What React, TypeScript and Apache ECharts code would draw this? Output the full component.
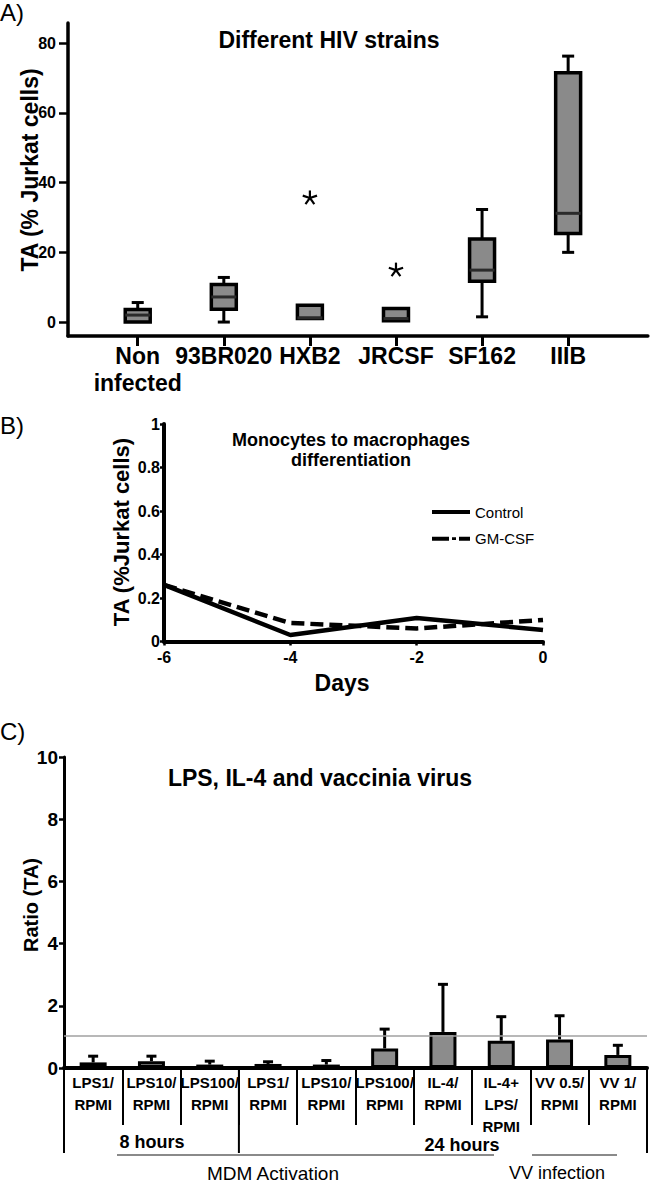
import React, { useEffect, useRef } from 'react';
import * as echarts from 'echarts';

// ---------- Panel A: boxplots ----------
const strains = ['Non\ninfected', '93BR020', 'HXB2', 'JRCSF', 'SF162', 'IIIB'];
const whiskerLow = [0, 0, 1.0, 0.4, 1.5, 20];
const quartile1 = [0, 3.7, 1.0, 0.4, 11.7, 25.4];
const medians = [2.0, 7.2, 1.2, 1.0, 14.9, 31.2];
const quartile3 = [3.6, 10.8, 4.8, 3.9, 23.8, 71.5];
const whiskerHigh = [5.6, 12.8, 4.8, 3.9, 32.3, 76.3];
const outlierStrain = [2, 3];
const outlierValue = [35.6, 14.9];
const aTicks = [0, 20, 40, 60, 80];

// ---------- Panel B: lines ----------
const days = [-6, -4, -2, 0];
const control = [0.26, 0.03, 0.108, 0.053];
const gmcsf = [0.26, 0.085, 0.06, 0.099];

// ---------- Panel C: bars ----------
const treatments = [
  'LPS1/\nRPMI', 'LPS10/\nRPMI', 'LPS100/\nRPMI', 'LPS1/\nRPMI', 'LPS10/\nRPMI',
  'LPS100/\nRPMI', 'IL-4/\nRPMI', 'IL-4+\nLPS/\nRPMI', 'VV 0.5/\nRPMI', 'VV 1/\nRPMI',
];
const ratioMean = [0.18, 0.22, 0.11, 0.13, 0.11, 0.63, 1.16, 0.88, 0.92, 0.42];
const ratioUpper = [0.38, 0.38, 0.22, 0.2, 0.24, 1.25, 2.69, 1.65, 1.68, 0.73];
const refRatio = 1.05;

const FONT = 'Liberation Sans, Arial, Helvetica, sans-serif';

// x range of panel A (in category-index units)
const A_MIN = -0.81;
const A_MAX = 5.926;

// layout constants for panel C annotations
const C_LEFT = 64;
const C_RIGHT = 3;
const C_AXIS_Y = 1068;
const C_BAND = (650 - C_LEFT - C_RIGHT) / treatments.length;

const ICON_SOLID = 'path://M0,0H38V4H0Z';
const ICON_DASHDOT = 'path://M0,0H17V4H0Z M20,0.6H24V3.4H20Z M27,0H38V4H27Z';

function buildOption() {
  const strainIdx = strains.map((_, i) => i);
  const boxData = strains.map((_, i) => [i, whiskerLow[i], quartile1[i], medians[i], quartile3[i], whiskerHigh[i]]);
  const outData = outlierStrain.map((s, i) => [s, outlierValue[i]]);
  const ctrlData = days.map((d, i) => [d, control[i]]);
  const gmData = days.map((d, i) => [d, gmcsf[i]]);
  const errData = ratioMean.map((m, i) => [i, m, ratioUpper[i]]);

  const blk = '#000';
  const lbl = (size: number, bold = true) => ({
    fontSize: size, fontWeight: bold ? 'bold' : 'normal', color: blk, fontFamily: FONT,
  });

  const longSeps = [0, 3, 10].map((b) => ({
    type: 'line',
    shape: { x1: C_LEFT + b * C_BAND, y1: C_AXIS_Y, x2: C_LEFT + b * C_BAND, y2: 1153 },
    style: { stroke: blk, lineWidth: 2 },
  }));

  const text = (t: string, x: number, y: number, size: number, bold: boolean, rot = 0, align = 'center') => ({
    type: 'text', x, y, rotation: rot,
    style: {
      text: t, fill: blk, font: `${bold ? 'bold ' : ''}${size}px ${FONT}`,
      textAlign: align, textVerticalAlign: 'middle', lineHeight: size + 2,
    },
  });

  return {
    animation: false,
    backgroundColor: '#fff',
    grid: [
      { left: 68, right: 0, top: 23, bottom: 846 },
      { left: 164, right: 107, top: 424, bottom: 540.5 },
      { left: C_LEFT, right: C_RIGHT, top: 757, bottom: 1182 - C_AXIS_Y },
    ],
    xAxis: [
      {
        gridIndex: 0, type: 'value', min: A_MIN, max: A_MAX,
        splitLine: { show: false },
        axisLine: { show: true, onZero: false, lineStyle: { color: blk, width: 3.5 } },
        axisTick: { show: true, customValues: strainIdx, length: 10, lineStyle: { color: blk, width: 3 } },
        axisLabel: {
          // empty edge labels keep the min/max overlap check away from the real labels
          customValues: [A_MIN + 0.01, ...strainIdx, A_MAX - 0.01],
          formatter: (v: number) => (Number.isInteger(v) ? strains[v] ?? '' : ''),
          ...lbl(23), lineHeight: 27, margin: 6,
        },
      },
      {
        gridIndex: 1, type: 'value', min: -6, max: 0, interval: 2,
        splitLine: { show: false },
        axisLine: { show: true, onZero: false, lineStyle: { color: blk, width: 4 } },
        axisTick: { show: true, length: 4, lineStyle: { color: blk, width: 2.5 } },
        axisLabel: { ...lbl(16), margin: 8 },
      },
      {
        gridIndex: 2, type: 'category', data: treatments,
        axisLine: { show: true, onZero: false, lineStyle: { color: blk, width: 4 } },
        axisTick: { show: true, interval: 0, alignWithLabel: false, length: 57, lineStyle: { color: blk, width: 2 } },
        axisLabel: { interval: 0, ...lbl(15), lineHeight: 22, margin: 3 },
      },
    ],
    yAxis: [
      {
        gridIndex: 0, type: 'value', min: -4, max: 85.8,
        splitLine: { show: false },
        axisLine: { show: true, onZero: false, lineStyle: { color: blk, width: 3.5 } },
        axisTick: { show: true, customValues: aTicks, length: 9, lineStyle: { color: blk, width: 2.5 } },
        axisLabel: { customValues: aTicks, ...lbl(16), margin: 12 },
      },
      {
        gridIndex: 1, type: 'value', min: 0, max: 1, interval: 0.2,
        splitLine: { show: false },
        axisLine: { show: true, onZero: false, lineStyle: { color: blk, width: 4 } },
        axisTick: { show: true, length: 4, lineStyle: { color: blk, width: 2.5 } },
        axisLabel: { ...lbl(16), margin: 4 },
      },
      {
        gridIndex: 2, type: 'value', min: 0, max: 10, interval: 2,
        splitLine: { show: false },
        axisLine: { show: true, onZero: false, lineStyle: { color: blk, width: 3 } },
        axisTick: { show: true, length: 5, lineStyle: { color: blk, width: 2.5 } },
        axisLabel: { ...lbl(19), margin: 6 },
      },
    ],
    legend: {
      data: [
        { name: 'Control', icon: ICON_SOLID },
        { name: 'GM-CSF', icon: ICON_DASHDOT },
      ],
      orient: 'vertical', left: 427, top: 499,
      itemWidth: 38, itemHeight: 5, itemGap: 10.7,
      selectedMode: false,
      textStyle: { fontSize: 15, fontFamily: FONT, color: blk, lineHeight: 16 },
    },
    series: [
      {
        type: 'custom', name: 'boxes', xAxisIndex: 0, yAxisIndex: 0,
        data: boxData,
        encode: { x: 0, y: [1, 2, 3, 4, 5] },
        renderItem: (params: any, api: any) => {
          const i = api.value(0);
          const lo = api.coord([i, api.value(1)]);
          const q1 = api.coord([i, api.value(2)]);
          const md = api.coord([i, api.value(3)]);
          const q3 = api.coord([i, api.value(4)]);
          const hi = api.coord([i, api.value(5)]);
          const half = api.size([0.29, 0])[0] / 2;
          const cap = api.size([0.14, 0])[0] / 2;
          const cx = q1[0];
          const st = { stroke: '#000', lineWidth: 3 };
          const ch: any[] = [];
          if (q3[1] - hi[1] > 0.5) {
            ch.push({ type: 'line', shape: { x1: cx, y1: hi[1], x2: cx, y2: q3[1] }, style: st });
            ch.push({ type: 'line', shape: { x1: cx - cap, y1: hi[1], x2: cx + cap, y2: hi[1] }, style: st });
          }
          if (lo[1] - q1[1] > 0.5) {
            ch.push({ type: 'line', shape: { x1: cx, y1: q1[1], x2: cx, y2: lo[1] }, style: st });
            ch.push({ type: 'line', shape: { x1: cx - cap, y1: lo[1], x2: cx + cap, y2: lo[1] }, style: st });
          }
          ch.push({
            type: 'rect',
            shape: { x: cx - half, y: q3[1], width: half * 2, height: q1[1] - q3[1] },
            style: { fill: '#8a8a8a', stroke: '#000', lineWidth: 3.5 },
          });
          ch.push({ type: 'line', shape: { x1: cx - half, y1: md[1], x2: cx + half, y2: md[1] }, style: { stroke: '#2a2a2a', lineWidth: 3 } });
          return { type: 'group', children: ch };
        },
      },
      {
        type: 'custom', name: 'outliers', xAxisIndex: 0, yAxisIndex: 0,
        data: outData,
        encode: { x: 0, y: 1 },
        renderItem: (params: any, api: any) => {
          const p = api.coord([api.value(0), api.value(1)]);
          const r = 7.5;
          const angles = [90, 18, 162, -54, -126];
          return {
            type: 'group',
            children: angles.map((a) => ({
              type: 'line',
              shape: {
                x1: p[0], y1: p[1],
                x2: p[0] + r * Math.cos((a * Math.PI) / 180),
                y2: p[1] - r * Math.sin((a * Math.PI) / 180),
              },
              style: { stroke: '#000', lineWidth: 2.2 },
            })),
          };
        },
      },
      {
        type: 'line', name: 'Control', xAxisIndex: 1, yAxisIndex: 1,
        data: ctrlData, symbol: 'none',
        lineStyle: { color: '#000', width: 4.5 },
        itemStyle: { color: '#000' },
      },
      {
        type: 'line', name: 'GM-CSF', xAxisIndex: 1, yAxisIndex: 1,
        data: gmData, symbol: 'none',
        lineStyle: { color: '#000', width: 4.5, type: [13, 6] },
        itemStyle: { color: '#000' },
      },
      {
        type: 'bar', name: 'ratio', xAxisIndex: 2, yAxisIndex: 2,
        data: ratioMean, barWidth: 27,
        itemStyle: { color: '#8c8c8c', borderColor: '#000', borderWidth: 3 },
        markLine: {
          silent: true, symbol: 'none', label: { show: false },
          lineStyle: { color: '#a0a0a0', width: 1.5, type: 'solid' },
          data: [{ yAxis: refRatio }],
        },
      },
      {
        type: 'custom', name: 'err', xAxisIndex: 2, yAxisIndex: 2,
        data: errData,
        encode: { x: 0, y: [1, 2] },
        renderItem: (params: any, api: any) => {
          const i = api.value(0);
          const p0 = api.coord([i, api.value(1)]);
          const p1 = api.coord([i, api.value(2)]);
          const cap = 5;
          const st = { stroke: '#000', lineWidth: 3 };
          return {
            type: 'group',
            children: [
              { type: 'line', shape: { x1: p0[0], y1: p0[1], x2: p1[0], y2: p1[1] }, style: st },
              { type: 'line', shape: { x1: p1[0] - cap, y1: p1[1], x2: p1[0] + cap, y2: p1[1] }, style: st },
            ],
          };
        },
      },
    ],
    graphic: [
      text('A)', 0, 12, 24, false, 0, 'left'),
      text('B)', 0, 425, 24, false, 0, 'left'),
      text('C)', 0, 731, 24, false, 0, 'left'),
      text('Different HIV strains', 329, 40, 23, true),
      text('TA (% Jurkat cells)', 30, 170, 23, true, Math.PI / 2),
      text('Monocytes to macrophages\ndifferentiation', 351, 450, 18, true),
      text('TA (%Jurkat cells)', 121, 532, 22, true, Math.PI / 2),
      text('Days', 342, 683, 23, true),
      text('LPS, IL-4 and vaccinia virus', 320, 778, 23, true),
      text('Ratio (TA)', 31, 905, 20, true, Math.PI / 2),
      ...longSeps,
      { type: 'line', shape: { x1: 117, y1: 1155, x2: 494, y2: 1155 }, style: { stroke: '#8a8a8a', lineWidth: 2 } },
      { type: 'line', shape: { x1: 532, y1: 1155, x2: 617, y2: 1155 }, style: { stroke: '#8a8a8a', lineWidth: 2 } },
      text('8 hours', 152, 1142, 18, true),
      text('24 hours', 462, 1145, 18, true),
      text('MDM Activation', 273, 1173, 19, false),
      text('VV infection', 557, 1173, 18, false),
    ],
  };
}

export default function App() {
  const ref = useRef<HTMLDivElement>(null);
  useEffect(() => {
    document.body.style.margin = '0';
    const chart = echarts.init(ref.current as HTMLDivElement, null, { renderer: 'svg' });
    chart.setOption(buildOption() as any);
    return () => chart.dispose();
  }, []);
  return <div ref={ref} style={{ width: 650, height: 1182 }} />;
}
